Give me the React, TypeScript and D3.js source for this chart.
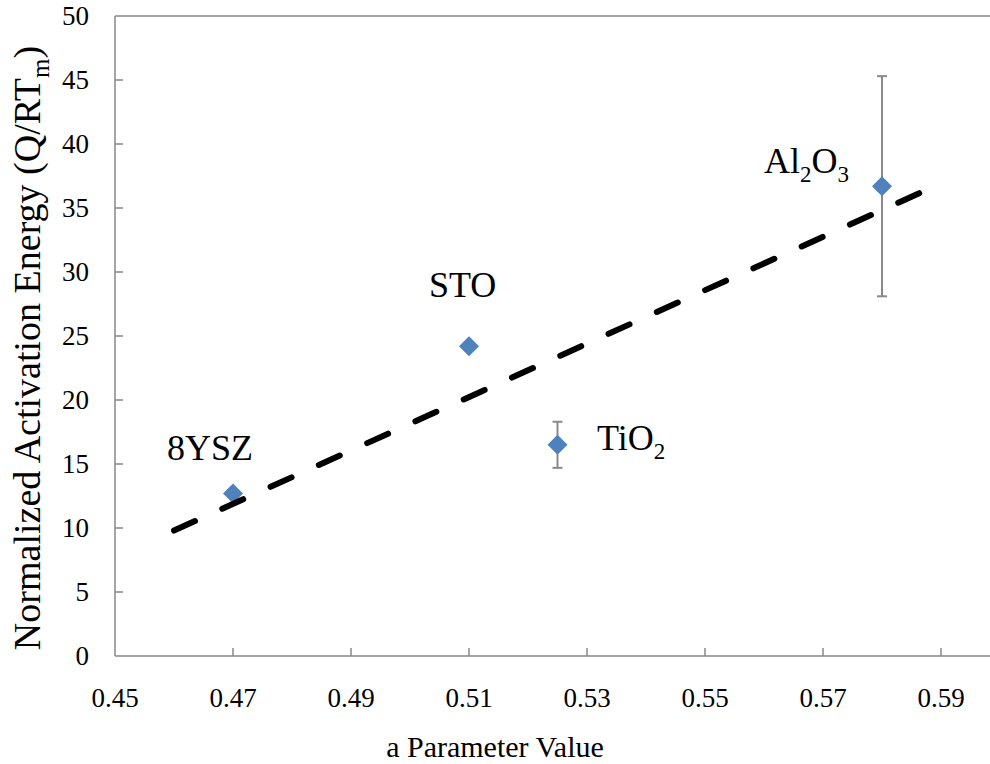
import React from "react";
import * as d3 from "d3";

const xTicks = [0.45, 0.47, 0.49, 0.51, 0.53, 0.55, 0.57, 0.59];
const yTicks = [0, 5, 10, 15, 20, 25, 30, 35, 40, 45, 50];
const names = ["8YSZ", "STO", "TiO2", "Al2O3"];
const xVals = [0.47, 0.51, 0.525, 0.58];
const yVals = [12.7, 24.2, 16.5, 36.7];
const yErr = [0, 0, 1.8, 8.6];
const trendX = [0.46, 0.587];
const trendY = [9.8, 36.3];

const W = 990;
const H = 764;
const FAM = "Liberation Serif";
const FS = { fontFamily: FAM };

export default function App() {
  const x = d3.scaleLinear().domain([0.45, 0.6]).range([115, 1000]);
  const y = d3.scaleLinear().domain([0, 50]).range([656, 16]);
  const axisColor = "#878787";
  const line = d3
    .line<number>()
    .x((_, i) => x(trendX[i]))
    .y((_, i) => y(trendY[i]));

  const labelPos: { [k: string]: [number, number] } = {
    "8YSZ": [167, 460],
    STO: [429, 297],
    TiO2: [597, 450],
    Al2O3: [764, 173],
  };

  const renderLabel = (n: string) => {
    const [lx, ly] = labelPos[n];
    if (n === "TiO2") {
      return (
        <text key={n} x={lx} y={ly} fontSize={36} style={FS}>
          TiO<tspan fontSize={23} dy={9}>2</tspan>
        </text>
      );
    }
    if (n === "Al2O3") {
      return (
        <text key={n} x={lx} y={ly} fontSize={36} style={FS}>
          Al<tspan fontSize={23} dy={9}>2</tspan>
          <tspan fontSize={36} dy={-9}>O</tspan>
          <tspan fontSize={23} dy={9}>3</tspan>
        </text>
      );
    }
    return (
      <text key={n} x={lx} y={ly} fontSize={36} style={FS}>
        {n}
      </text>
    );
  };

  return (
    <svg width={W} height={H} style={{ position: "absolute", left: 0, top: 0, background: "#fff" }}>
      <rect x={0} y={0} width={W} height={H} fill="#fff" />
      <line x1={x(0.45)} x2={W} y1={y(50)} y2={y(50)} stroke={axisColor} strokeWidth={1.5} />
      <line x1={x(0.45)} x2={x(0.45)} y1={y(0)} y2={y(50)} stroke={axisColor} strokeWidth={1.5} />
      <line x1={x(0.45)} x2={W} y1={y(0)} y2={y(0)} stroke={axisColor} strokeWidth={1.5} />
      {yTicks.map((t) => (
        <g key={"y" + t}>
          {t > 0 && t < 50 && (
            <line x1={x(0.45)} x2={x(0.45) + 8} y1={y(t)} y2={y(t)} stroke={axisColor} strokeWidth={1.5} />
          )}
          <text x={89} y={y(t) + 9} textAnchor="end" fontSize={27} style={FS}>
            {t}
          </text>
        </g>
      ))}
      {xTicks.map((t) => (
        <g key={"x" + t}>
          {t > 0.45 && (
            <line x1={x(t)} x2={x(t)} y1={y(0)} y2={y(0) - 8} stroke={axisColor} strokeWidth={1.5} />
          )}
          <text x={x(t)} y={707} textAnchor="middle" fontSize={27} style={FS}>
            {t.toFixed(2)}
          </text>
        </g>
      ))}
      <text x={495} y={757} textAnchor="middle" fontSize={30} style={FS}>
        a Parameter Value
      </text>
      <text transform={`translate(40, 348) rotate(-90)`} textAnchor="middle" fontSize={38} style={FS}>
        Normalized Activation Energy  (Q/RT<tspan fontSize={25} dy={9}>m</tspan>
        <tspan dy={-9}>)</tspan>
      </text>
      {xVals.map((xv, i) =>
        yErr[i] > 0 ? (
          <g key={"e" + i} stroke="#8a8a8a" strokeWidth={2}>
            <line x1={x(xv)} x2={x(xv)} y1={y(yVals[i] - yErr[i])} y2={y(yVals[i] + yErr[i])} />
            <line x1={x(xv) - 5} x2={x(xv) + 5} y1={y(yVals[i] - yErr[i])} y2={y(yVals[i] - yErr[i])} />
            <line x1={x(xv) - 5} x2={x(xv) + 5} y1={y(yVals[i] + yErr[i])} y2={y(yVals[i] + yErr[i])} />
          </g>
        ) : null
      )}
      {xVals.map((xv, i) => (
        <path
          key={"m" + i}
          d={d3.symbol().type(d3.symbolSquare).size(200)() as string}
          transform={`translate(${x(xv)},${y(yVals[i])}) rotate(45)`}
          fill="#4F81BD"
        />
      ))}
      <path
        d={line(trendX) as string}
        fill="none"
        stroke="#000"
        strokeWidth={6}
        strokeLinecap="round"
        strokeDasharray="23 30"
      />
      {names.map(renderLabel)}
    </svg>
  );
}
